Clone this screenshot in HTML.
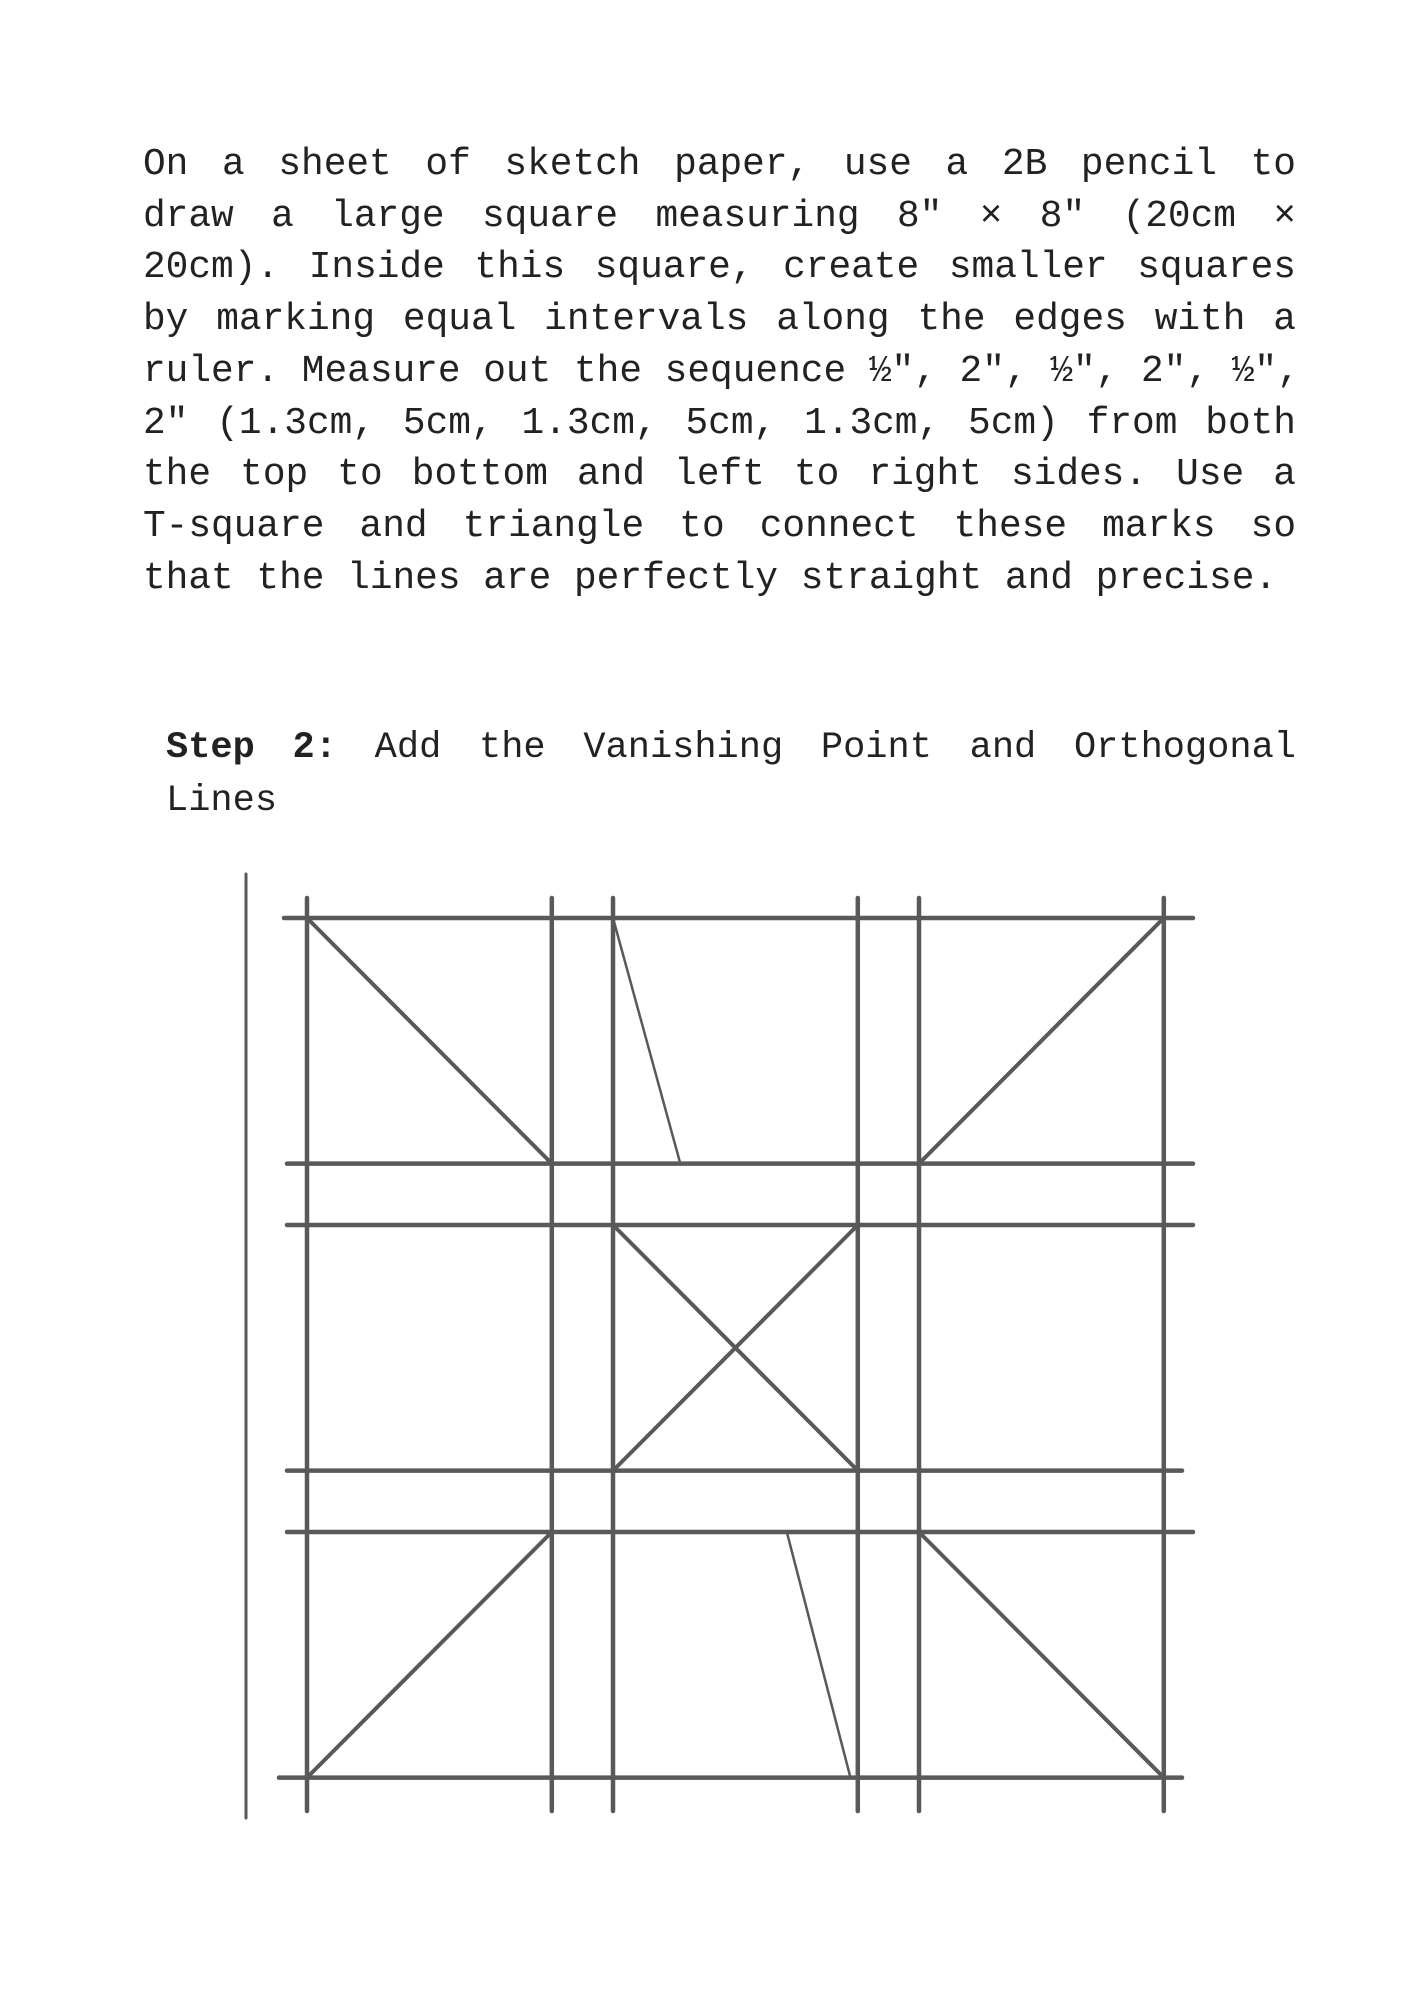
<!DOCTYPE html>
<html><head><meta charset="utf-8"><style>
html,body{margin:0;padding:0;background:#fff;}
body{width:1414px;height:2000px;position:relative;overflow:hidden;font-family:"Liberation Mono",monospace;color:#222;}
.para{position:absolute;left:143px;top:140px;width:1153px;font-size:37.8px;line-height:51.7px;}
.para div{text-align:justify;text-align-last:justify;white-space:nowrap;}
.para div.last{text-align-last:left;}
.step{position:absolute;left:166px;top:722px;width:1130px;font-size:37px;line-height:53px;}
.step div{text-align:justify;text-align-last:justify;}
.step div.last{text-align-last:left;}
svg{position:absolute;left:0;top:0;}
</style></head><body>
<div class="para">
<div>On a sheet of sketch paper, use a 2B pencil to</div>
<div>draw a large square measuring 8″ × 8″ (20cm ×</div>
<div>20cm). Inside this square, create smaller squares</div>
<div>by marking equal intervals along the edges with a</div>
<div>ruler. Measure out the sequence ½″, 2″, ½″, 2″, ½″,</div>
<div>2″ (1.3cm, 5cm, 1.3cm, 5cm, 1.3cm, 5cm) from both</div>
<div>the top to bottom and left to right sides. Use a</div>
<div>T-square and triangle to connect these marks so</div>
<div class="last">that the lines are perfectly straight and precise.</div>
</div>
<div class="step">
<div><b>Step 2:</b> Add the Vanishing Point and Orthogonal</div>
<div class="last">Lines</div>
</div>
<svg id="fig" width="1414" height="2000"></svg>
<script>
const gridX = [0, 2, 2.5, 4.5, 5, 7];
const gridY = [0, 2, 2.5, 4.5, 5, 7];
const diagonals = [
  [0,0,2,2],[2.5,0,3.05,2],[7,0,5,2],
  [2.5,2.5,4.5,4.5],[4.5,2.5,2.5,4.5],
  [2,5,0,7],[3.92,5,4.44,7],[5,5,7,7]
];
const sx = v => 307 + v * 122.4;
const sy = v => 918 + v * 122.8;
const svg = document.getElementById('fig');
const NS = 'http://www.w3.org/2000/svg';
function line(x1,y1,x2,y2,w,name){
  const l = document.createElementNS(NS,'line');
  l.setAttribute('x1',x1);l.setAttribute('y1',y1);l.setAttribute('x2',x2);l.setAttribute('y2',y2);
  l.setAttribute('stroke','#595959');l.setAttribute('stroke-width',w);l.setAttribute('stroke-linecap','round');
  
  
  svg.appendChild(l);
}
line(246,874,246,1818,3,'paper-edge');
gridY.forEach((v,i)=>{
  const y = sy(v);
  line(i==0?284:(i==5?279:287), y, (i==3||i==5)?1182:1193, y, 4.5, 'horizontal-grid-line');
});
gridX.forEach(v=>{
  const x = sx(v);
  line(x, 898, x, 1811, 4.5, 'vertical-grid-line');
});
diagonals.forEach(d=>{
  line(sx(d[0]),sy(d[1]),sx(d[2]),sy(d[3]), (d[0]==2.5&&d[1]==0)||(d[0]==3.92)?2.5:4, 'orthogonal-line');
});
</script>
</body></html>
